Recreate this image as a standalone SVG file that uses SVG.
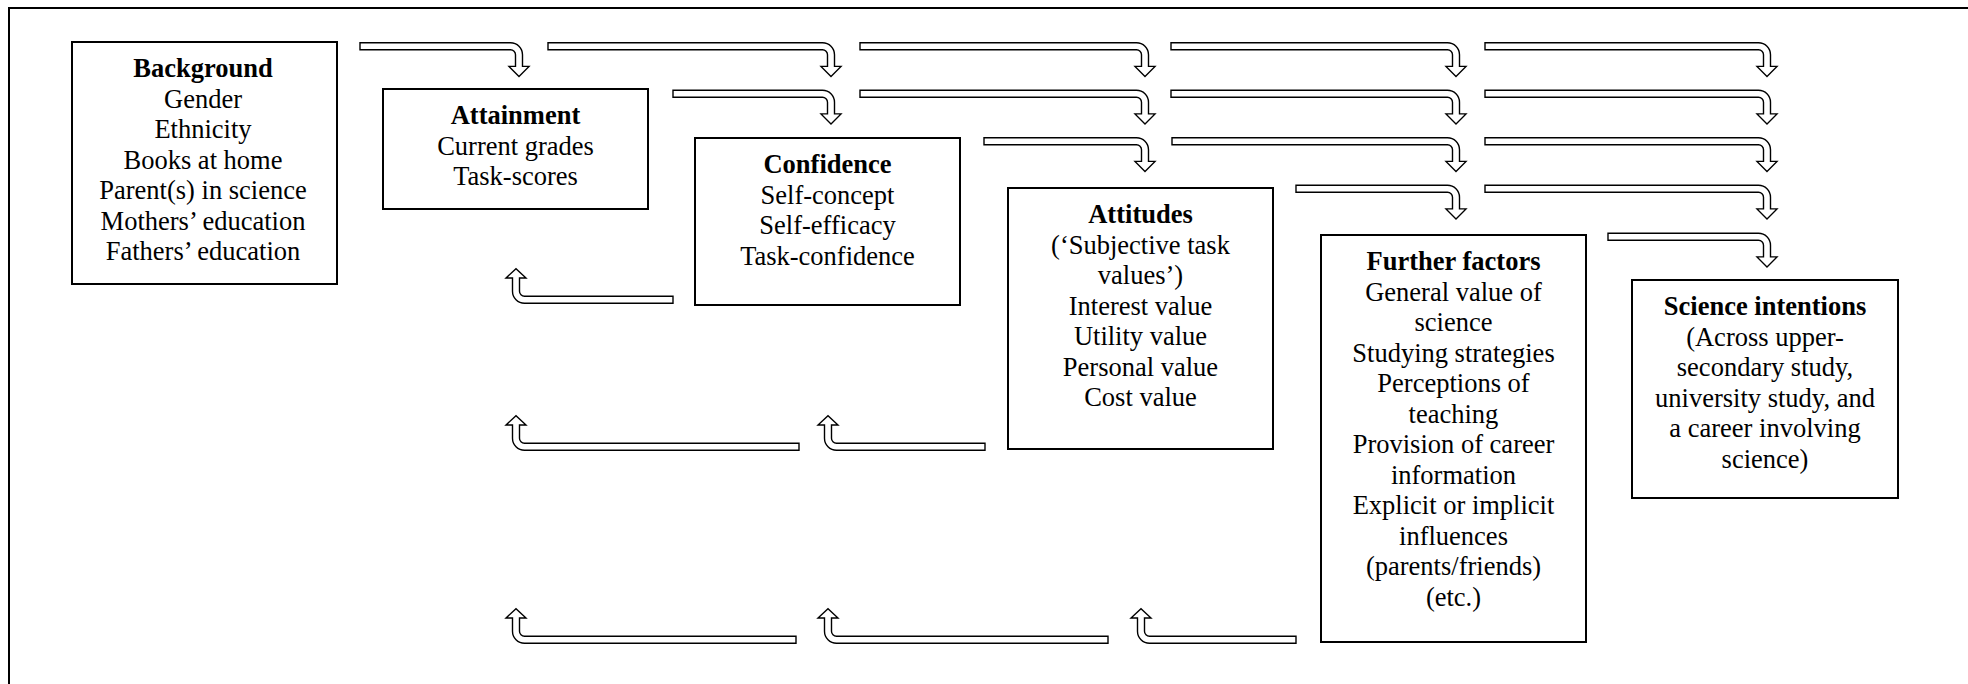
<svg xmlns="http://www.w3.org/2000/svg" width="1968" height="684" viewBox="0 0 1968 684">
<style>
.frame{fill:none;stroke:#000;stroke-width:2}
.box{fill:#fff;stroke:#000;stroke-width:2}
.arr{fill:#fff;stroke:#000;stroke-width:1.4;stroke-linejoin:miter}
text{font-family:"Liberation Serif","Times New Roman",serif;font-size:26.5px;fill:#000;text-anchor:middle}
.t{font-weight:bold}
</style>
<rect width="1968" height="684" fill="#fff"/>
<rect class="frame" x="9" y="8" width="2000" height="700"/>
<defs>
<path id="d159" d="M-159 0.7 H-8.5 A12 12 0 0 1 3.5 12.7 V24.4 H10 L0 34.5 L-10 24.4 H-3.5 V12.7 A5 5 0 0 0 -8.5 7.7 H-159 Z"/>
</defs>
<g id="connectors">
<!-- row 1 -->
<path class="arr" transform="translate(519,42)" d="M-159 0.7 H-8.5 A12 12 0 0 1 3.5 12.7 V24.4 H10 L0 34.5 L-10 24.4 H-3.5 V12.7 A5 5 0 0 0 -8.5 7.7 H-159 Z"/>
<path class="arr" transform="translate(831,42)" d="M-283 0.7 H-8.5 A12 12 0 0 1 3.5 12.7 V24.4 H10 L0 34.5 L-10 24.4 H-3.5 V12.7 A5 5 0 0 0 -8.5 7.7 H-283 Z"/>
<path class="arr" transform="translate(1145,42)" d="M-285 0.7 H-8.5 A12 12 0 0 1 3.5 12.7 V24.4 H10 L0 34.5 L-10 24.4 H-3.5 V12.7 A5 5 0 0 0 -8.5 7.7 H-285 Z"/>
<path class="arr" transform="translate(1456,42)" d="M-285 0.7 H-8.5 A12 12 0 0 1 3.5 12.7 V24.4 H10 L0 34.5 L-10 24.4 H-3.5 V12.7 A5 5 0 0 0 -8.5 7.7 H-285 Z"/>
<path class="arr" transform="translate(1767,42)" d="M-282 0.7 H-8.5 A12 12 0 0 1 3.5 12.7 V24.4 H10 L0 34.5 L-10 24.4 H-3.5 V12.7 A5 5 0 0 0 -8.5 7.7 H-282 Z"/>
<!-- row 2 -->
<path class="arr" transform="translate(831,89.5)" d="M-158 0.7 H-8.5 A12 12 0 0 1 3.5 12.7 V24.4 H10 L0 34.5 L-10 24.4 H-3.5 V12.7 A5 5 0 0 0 -8.5 7.7 H-158 Z"/>
<path class="arr" transform="translate(1145,89.5)" d="M-285 0.7 H-8.5 A12 12 0 0 1 3.5 12.7 V24.4 H10 L0 34.5 L-10 24.4 H-3.5 V12.7 A5 5 0 0 0 -8.5 7.7 H-285 Z"/>
<path class="arr" transform="translate(1456,89.5)" d="M-285 0.7 H-8.5 A12 12 0 0 1 3.5 12.7 V24.4 H10 L0 34.5 L-10 24.4 H-3.5 V12.7 A5 5 0 0 0 -8.5 7.7 H-285 Z"/>
<path class="arr" transform="translate(1767,89.5)" d="M-282 0.7 H-8.5 A12 12 0 0 1 3.5 12.7 V24.4 H10 L0 34.5 L-10 24.4 H-3.5 V12.7 A5 5 0 0 0 -8.5 7.7 H-282 Z"/>
<!-- row 3 -->
<path class="arr" transform="translate(1145,137)" d="M-161 0.7 H-8.5 A12 12 0 0 1 3.5 12.7 V24.4 H10 L0 34.5 L-10 24.4 H-3.5 V12.7 A5 5 0 0 0 -8.5 7.7 H-161 Z"/>
<path class="arr" transform="translate(1456,137)" d="M-284 0.7 H-8.5 A12 12 0 0 1 3.5 12.7 V24.4 H10 L0 34.5 L-10 24.4 H-3.5 V12.7 A5 5 0 0 0 -8.5 7.7 H-284 Z"/>
<path class="arr" transform="translate(1767,137)" d="M-282 0.7 H-8.5 A12 12 0 0 1 3.5 12.7 V24.4 H10 L0 34.5 L-10 24.4 H-3.5 V12.7 A5 5 0 0 0 -8.5 7.7 H-282 Z"/>
<!-- row 4 -->
<path class="arr" transform="translate(1456,184.5)" d="M-160 0.7 H-8.5 A12 12 0 0 1 3.5 12.7 V24.4 H10 L0 34.5 L-10 24.4 H-3.5 V12.7 A5 5 0 0 0 -8.5 7.7 H-160 Z"/>
<path class="arr" transform="translate(1767,184.5)" d="M-282 0.7 H-8.5 A12 12 0 0 1 3.5 12.7 V24.4 H10 L0 34.5 L-10 24.4 H-3.5 V12.7 A5 5 0 0 0 -8.5 7.7 H-282 Z"/>
<!-- row 5 -->
<path class="arr" transform="translate(1767,232.5)" d="M-159 0.7 H-8.5 A12 12 0 0 1 3.5 12.7 V24.4 H10 L0 34.5 L-10 24.4 H-3.5 V12.7 A5 5 0 0 0 -8.5 7.7 H-159 Z"/>
<!-- feedback arrows -->
<path class="arr" transform="translate(516,304)" d="M157 -0.7 H8.5 A12 12 0 0 1 -3.5 -12.7 V-26 H-10 L0 -35.3 L10 -26 H3.5 V-12.7 A5 5 0 0 0 8.5 -7.7 H157 Z"/>
<path class="arr" transform="translate(516,451)" d="M283 -0.7 H8.5 A12 12 0 0 1 -3.5 -12.7 V-26 H-10 L0 -35.3 L10 -26 H3.5 V-12.7 A5 5 0 0 0 8.5 -7.7 H283 Z"/>
<path class="arr" transform="translate(828,451)" d="M157 -0.7 H8.5 A12 12 0 0 1 -3.5 -12.7 V-26 H-10 L0 -35.3 L10 -26 H3.5 V-12.7 A5 5 0 0 0 8.5 -7.7 H157 Z"/>
<path class="arr" transform="translate(516,644)" d="M280 -0.7 H8.5 A12 12 0 0 1 -3.5 -12.7 V-26 H-10 L0 -35.3 L10 -26 H3.5 V-12.7 A5 5 0 0 0 8.5 -7.7 H280 Z"/>
<path class="arr" transform="translate(828,644)" d="M280 -0.7 H8.5 A12 12 0 0 1 -3.5 -12.7 V-26 H-10 L0 -35.3 L10 -26 H3.5 V-12.7 A5 5 0 0 0 8.5 -7.7 H280 Z"/>
<path class="arr" transform="translate(1141,644)" d="M155 -0.7 H8.5 A12 12 0 0 1 -3.5 -12.7 V-26 H-10 L0 -35.3 L10 -26 H3.5 V-12.7 A5 5 0 0 0 8.5 -7.7 H155 Z"/>
</g>
<g id="background">
<rect class="box" x="72" y="42" width="265" height="242"/>
<text x="203" y="77.3"><tspan class="t">Background</tspan><tspan x="203" dy="30.5">Gender</tspan><tspan x="203" dy="30.5">Ethnicity</tspan><tspan x="203" dy="30.5">Books at home</tspan><tspan x="203" dy="30.5">Parent(s) in science</tspan><tspan x="203" dy="30.5">Mothers’ education</tspan><tspan x="203" dy="30.5">Fathers’ education</tspan></text>
</g>
<g id="attainment">
<rect class="box" x="383" y="89" width="265" height="120"/>
<text x="515.5" y="124.3"><tspan class="t">Attainment</tspan><tspan x="515.5" dy="30.5">Current grades</tspan><tspan x="515.5" dy="30.5">Task-scores</tspan></text>
</g>
<g id="confidence">
<rect class="box" x="695" y="138" width="265" height="167"/>
<text x="827.5" y="173.3"><tspan class="t">Confidence</tspan><tspan x="827.5" dy="30.5">Self-concept</tspan><tspan x="827.5" dy="30.5">Self-efficacy</tspan><tspan x="827.5" dy="30.5">Task-confidence</tspan></text>
</g>
<g id="attitudes">
<rect class="box" x="1008" y="188" width="265" height="261"/>
<text x="1140.5" y="223.3"><tspan class="t">Attitudes</tspan><tspan x="1140.5" dy="30.5">(‘Subjective task</tspan><tspan x="1140.5" dy="30.5">values’)</tspan><tspan x="1140.5" dy="30.5">Interest value</tspan><tspan x="1140.5" dy="30.5">Utility value</tspan><tspan x="1140.5" dy="30.5">Personal value</tspan><tspan x="1140.5" dy="30.5">Cost value</tspan></text>
</g>
<g id="further-factors">
<rect class="box" x="1321" y="235" width="265" height="407"/>
<text x="1453.5" y="270.3"><tspan class="t">Further factors</tspan><tspan x="1453.5" dy="30.5">General value of</tspan><tspan x="1453.5" dy="30.5">science</tspan><tspan x="1453.5" dy="30.5">Studying strategies</tspan><tspan x="1453.5" dy="30.5">Perceptions of</tspan><tspan x="1453.5" dy="30.5">teaching</tspan><tspan x="1453.5" dy="30.5">Provision of career</tspan><tspan x="1453.5" dy="30.5">information</tspan><tspan x="1453.5" dy="30.5">Explicit or implicit</tspan><tspan x="1453.5" dy="30.5">influences</tspan><tspan x="1453.5" dy="30.5">(parents/friends)</tspan><tspan x="1453.5" dy="30.5">(etc.)</tspan></text>
</g>
<g id="science-intentions">
<rect class="box" x="1632" y="280" width="266" height="218"/>
<text x="1765" y="315.3"><tspan class="t">Science intentions</tspan><tspan x="1765" dy="30.5">(Across upper-</tspan><tspan x="1765" dy="30.5">secondary study,</tspan><tspan x="1765" dy="30.5">university study, and</tspan><tspan x="1765" dy="30.5">a career involving</tspan><tspan x="1765" dy="30.5">science)</tspan></text>
</g>
</svg>
